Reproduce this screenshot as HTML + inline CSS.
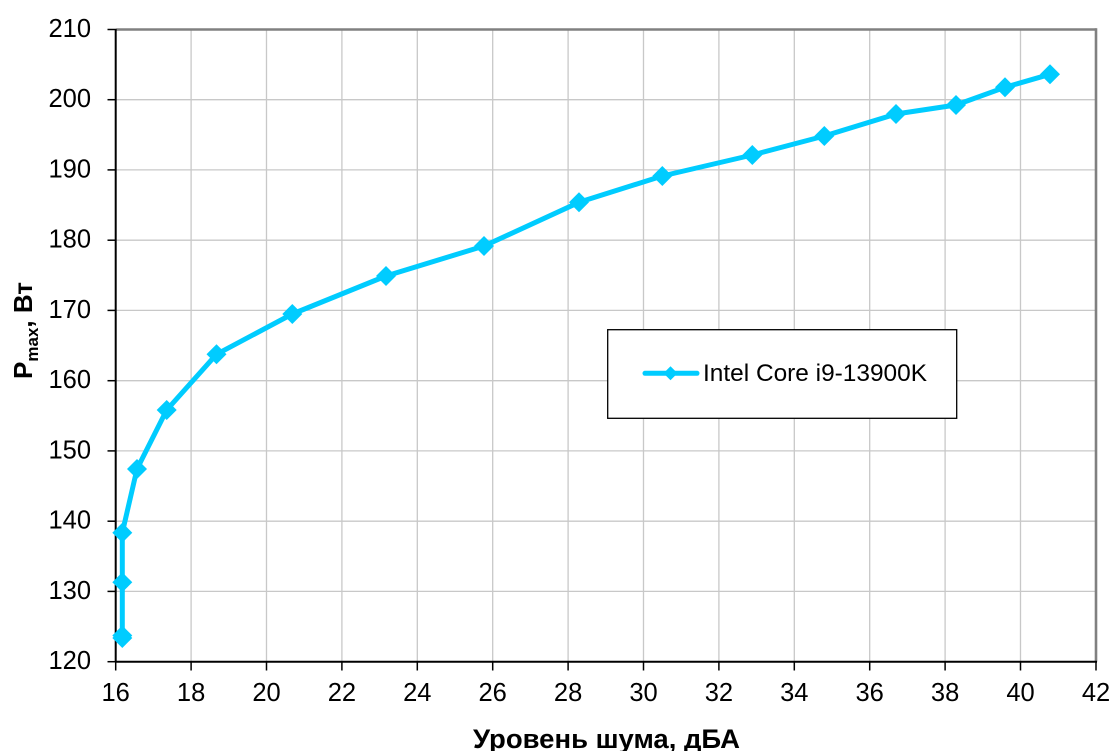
<!DOCTYPE html>
<html>
<head>
<meta charset="utf-8">
<style>
  html, body { margin: 0; padding: 0; background: #ffffff; }
  svg { display: block; }
  text { font-family: "Liberation Sans", "DejaVu Sans", sans-serif; fill: #000; }
</style>
</head>
<body>
<svg width="1115" height="751" viewBox="0 0 1115 751" xmlns="http://www.w3.org/2000/svg">
  <rect x="0" y="0" width="1115" height="751" fill="#ffffff"/>

  <!-- vertical gridlines -->
  <g stroke="#c8c8c8" stroke-width="1.3">
    <line x1="191.1" y1="29.5" x2="191.1" y2="661.7"/>
    <line x1="266.5" y1="29.5" x2="266.5" y2="661.7"/>
    <line x1="341.9" y1="29.5" x2="341.9" y2="661.7"/>
    <line x1="417.3" y1="29.5" x2="417.3" y2="661.7"/>
    <line x1="492.7" y1="29.5" x2="492.7" y2="661.7"/>
    <line x1="568.1" y1="29.5" x2="568.1" y2="661.7"/>
    <line x1="643.5" y1="29.5" x2="643.5" y2="661.7"/>
    <line x1="718.9" y1="29.5" x2="718.9" y2="661.7"/>
    <line x1="794.3" y1="29.5" x2="794.3" y2="661.7"/>
    <line x1="869.7" y1="29.5" x2="869.7" y2="661.7"/>
    <line x1="945.1" y1="29.5" x2="945.1" y2="661.7"/>
    <line x1="1020.5" y1="29.5" x2="1020.5" y2="661.7"/>
  </g>
  <!-- horizontal gridlines -->
  <g stroke="#c8c8c8" stroke-width="1.3">
    <line x1="115.7" y1="591.4" x2="1096" y2="591.4"/>
    <line x1="115.7" y1="521.2" x2="1096" y2="521.2"/>
    <line x1="115.7" y1="450.9" x2="1096" y2="450.9"/>
    <line x1="115.7" y1="380.7" x2="1096" y2="380.7"/>
    <line x1="115.7" y1="310.4" x2="1096" y2="310.4"/>
    <line x1="115.7" y1="240.2" x2="1096" y2="240.2"/>
    <line x1="115.7" y1="169.9" x2="1096" y2="169.9"/>
    <line x1="115.7" y1="99.7" x2="1096" y2="99.7"/>
  </g>

  <!-- plot border top/right (gray) -->
  <line x1="115.7" y1="29.5" x2="1096.5" y2="29.5" stroke="#808080" stroke-width="2.6"/>
  <line x1="1096" y1="28.2" x2="1096" y2="661.7" stroke="#808080" stroke-width="2.6"/>

  <!-- axes (black) -->
  <line x1="115.7" y1="29" x2="115.7" y2="662.5" stroke="#000" stroke-width="2"/>
  <line x1="115" y1="661.7" x2="1097" y2="661.7" stroke="#000" stroke-width="2"/>

  <!-- y ticks -->
  <g stroke="#000" stroke-width="1.5">
    <line x1="107.5" y1="29.5" x2="115.7" y2="29.5"/>
    <line x1="107.5" y1="99.7" x2="115.7" y2="99.7"/>
    <line x1="107.5" y1="169.9" x2="115.7" y2="169.9"/>
    <line x1="107.5" y1="240.2" x2="115.7" y2="240.2"/>
    <line x1="107.5" y1="310.4" x2="115.7" y2="310.4"/>
    <line x1="107.5" y1="380.7" x2="115.7" y2="380.7"/>
    <line x1="107.5" y1="450.9" x2="115.7" y2="450.9"/>
    <line x1="107.5" y1="521.2" x2="115.7" y2="521.2"/>
    <line x1="107.5" y1="591.4" x2="115.7" y2="591.4"/>
    <line x1="107.5" y1="661.7" x2="115.7" y2="661.7"/>
  </g>
  <!-- x ticks -->
  <g stroke="#000" stroke-width="1.5">
    <line x1="115.7" y1="661.7" x2="115.7" y2="670.5"/>
    <line x1="191.1" y1="661.7" x2="191.1" y2="670.5"/>
    <line x1="266.5" y1="661.7" x2="266.5" y2="670.5"/>
    <line x1="341.9" y1="661.7" x2="341.9" y2="670.5"/>
    <line x1="417.3" y1="661.7" x2="417.3" y2="670.5"/>
    <line x1="492.7" y1="661.7" x2="492.7" y2="670.5"/>
    <line x1="568.1" y1="661.7" x2="568.1" y2="670.5"/>
    <line x1="643.5" y1="661.7" x2="643.5" y2="670.5"/>
    <line x1="718.9" y1="661.7" x2="718.9" y2="670.5"/>
    <line x1="794.3" y1="661.7" x2="794.3" y2="670.5"/>
    <line x1="869.7" y1="661.7" x2="869.7" y2="670.5"/>
    <line x1="945.1" y1="661.7" x2="945.1" y2="670.5"/>
    <line x1="1020.5" y1="661.7" x2="1020.5" y2="670.5"/>
    <line x1="1096" y1="661.7" x2="1096" y2="670.5"/>
  </g>

  <!-- y tick labels -->
  <g font-size="25.5" text-anchor="end">
    <text x="91" y="37">210</text>
    <text x="91" y="107.2">200</text>
    <text x="91" y="177.4">190</text>
    <text x="91" y="247.7">180</text>
    <text x="91" y="317.9">170</text>
    <text x="91" y="388.2">160</text>
    <text x="91" y="458.4">150</text>
    <text x="91" y="528.7">140</text>
    <text x="91" y="598.9">130</text>
    <text x="91" y="669.2">120</text>
  </g>

  <!-- x tick labels -->
  <g font-size="25.5" text-anchor="middle">
    <text x="115.7" y="701">16</text>
    <text x="191.1" y="701">18</text>
    <text x="266.5" y="701">20</text>
    <text x="341.9" y="701">22</text>
    <text x="417.3" y="701">24</text>
    <text x="492.7" y="701">26</text>
    <text x="568.1" y="701">28</text>
    <text x="643.5" y="701">30</text>
    <text x="718.9" y="701">32</text>
    <text x="794.3" y="701">34</text>
    <text x="869.7" y="701">36</text>
    <text x="945.1" y="701">38</text>
    <text x="1020.5" y="701">40</text>
    <text x="1096" y="701">42</text>
  </g>

  <!-- axis titles -->
  <text x="473" y="748" font-size="27" font-weight="bold" textLength="267" lengthAdjust="spacingAndGlyphs">Уровень шума, дБА</text>
  <g transform="translate(32,379) rotate(-90)">
    <text x="0" y="0" font-size="26" font-weight="bold">P<tspan font-size="17" dy="6">max</tspan><tspan dy="-6">, Вт</tspan></text>
  </g>

  <!-- series line -->
  <polyline fill="none" stroke="#00ccff" stroke-width="5" stroke-linejoin="round" stroke-linecap="round"
    points="122.3,638 122.3,635.5 122.3,582.3 122.3,532.7 137,469 166.7,410 216.5,354.3 292.3,314 386,276 484,246 579,202.3 662.3,176 752.3,155 824.3,136 896,114 956,105 1005,87.3 1050,74.3"/>

  <!-- markers -->
  <g fill="#00ccff">
    <path d="M122.3,628 L132.3,638 L122.3,648 L112.3,638 Z"/>
    <path d="M122.3,625.5 L132.3,635.5 L122.3,645.5 L112.3,635.5 Z"/>
    <path d="M122.3,572.3 L132.3,582.3 L122.3,592.3 L112.3,582.3 Z"/>
    <path d="M122.3,522.7 L132.3,532.7 L122.3,542.7 L112.3,532.7 Z"/>
    <path d="M137,459 L147,469 L137,479 L127,469 Z"/>
    <path d="M166.7,400 L176.7,410 L166.7,420 L156.7,410 Z"/>
    <path d="M216.5,344.3 L226.5,354.3 L216.5,364.3 L206.5,354.3 Z"/>
    <path d="M292.3,304 L302.3,314 L292.3,324 L282.3,314 Z"/>
    <path d="M386,266 L396,276 L386,286 L376,276 Z"/>
    <path d="M484,236 L494,246 L484,256 L474,246 Z"/>
    <path d="M579,192.3 L589,202.3 L579,212.3 L569,202.3 Z"/>
    <path d="M662.3,166 L672.3,176 L662.3,186 L652.3,176 Z"/>
    <path d="M752.3,145 L762.3,155 L752.3,165 L742.3,155 Z"/>
    <path d="M824.3,126 L834.3,136 L824.3,146 L814.3,136 Z"/>
    <path d="M896,104 L906,114 L896,124 L886,114 Z"/>
    <path d="M956,95 L966,105 L956,115 L946,105 Z"/>
    <path d="M1005,77.3 L1015,87.3 L1005,97.3 L995,87.3 Z"/>
    <path d="M1050,64.3 L1060,74.3 L1050,84.3 L1040,74.3 Z"/>
  </g>

  <!-- legend -->
  <rect x="607.7" y="329.7" width="349" height="88.6" fill="#ffffff" stroke="#000" stroke-width="1.3"/>
  <line x1="645" y1="373.3" x2="697" y2="373.3" stroke="#00ccff" stroke-width="5" stroke-linecap="round"/>
  <path d="M670.5,366.3 L677.5,373.3 L670.5,380.3 L663.5,373.3 Z" fill="#00ccff"/>
  <text x="703" y="381" font-size="24.5" textLength="224" lengthAdjust="spacingAndGlyphs">Intel Core i9-13900K</text>
</svg>
</body>
</html>
